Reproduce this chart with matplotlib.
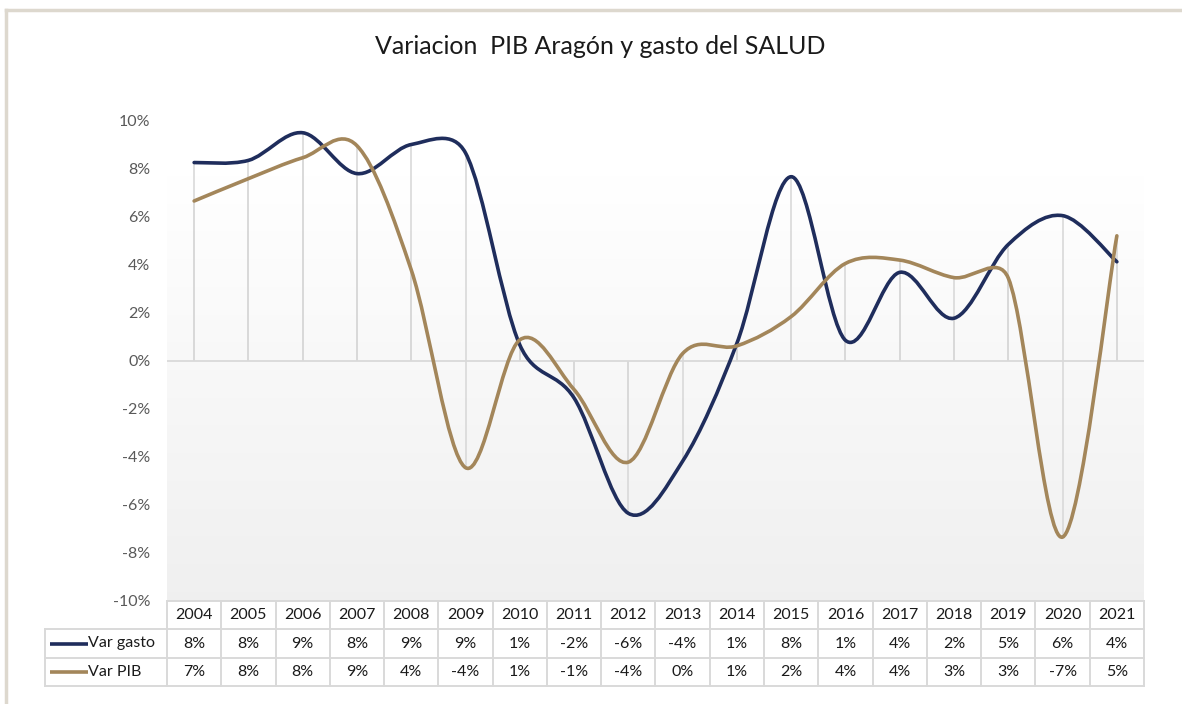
import numpy as np
import matplotlib
matplotlib.use('Agg')
import matplotlib.pyplot as plt
from matplotlib.path import Path
from matplotlib.patches import PathPatch
from matplotlib.lines import Line2D

# data (percent)
years = [2004, 2005, 2006, 2007, 2008, 2009, 2010, 2011, 2012,
         2013, 2014, 2015, 2016, 2017, 2018, 2019, 2020, 2021]
var_gasto = [8.25, 8.34, 9.49, 7.79, 9.0, 8.65, 0.66, -1.55, -6.35,
             -4.18, 0.73, 7.66, 0.85, 3.68, 1.77, 4.84, 6.04, 4.12]
var_pib = [6.65, 7.58, 8.45, 8.95, 3.78, -4.45, 0.87, -1.2, -4.22,
           0.3, 0.62, 1.84, 4.05, 4.19, 3.46, 3.44, -7.34, 5.2]
series_names = ['Var gasto', 'Var PIB']
series_colors = ['#1F2D5C', '#A3865A']
yticks = list(range(-10, 11, 2))
ytick_labels = ['%d%%' % v for v in yticks]

plt.rcParams['font.family'] = ['Lato', 'DejaVu Sans']

W, H = 1182, 704
PX_X, PX_Y = 54.3, 24.07   # pixels per category / per percent


def box(l, t, r, b):
    # pixel box -> figure fraction
    return [l / W, 1 - b / H, (r - l) / W, (b - t) / H]


def smooth_path(x, y):
    # excel style smoothing: bezier segments, control arms 1/6 of the
    # neighbour chord but never longer than half the segment (screen space)
    pts = np.column_stack([x, y]).astype(float)
    scr = pts * [PX_X, PX_Y]
    n = len(pts)
    verts = [pts[0]]
    codes = [Path.MOVETO]
    for i in range(n - 1):
        i0, i3 = max(i - 1, 0), min(i + 2, n - 1)
        d02 = np.hypot(*(scr[i + 1] - scr[i0]))
        d12 = np.hypot(*(scr[i + 1] - scr[i]))
        d13 = np.hypot(*(scr[i3] - scr[i]))
        f0 = min(1 / 6, d12 / (2 * d02)) if d02 > 0 else 0
        f3 = min(1 / 6, d12 / (2 * d13)) if d13 > 0 else 0
        c1 = pts[i] + (pts[i + 1] - pts[i0]) * f0
        c2 = pts[i + 1] - (pts[i3] - pts[i]) * f3
        verts += [c1, c2, pts[i + 1]]
        codes += [Path.CURVE4] * 3
    return Path(verts, codes)


fig = plt.figure(figsize=(W / 100, H / 100), dpi=100)
fig.patch.set_facecolor('white')

# outer frame of the excel chart object
fig.add_artist(Line2D([6 / W, 1], [1 - 10 / H, 1 - 10 / H], color='#DDD8CE', lw=2.5,
                      transform=fig.transFigure))
fig.add_artist(Line2D([6 / W, 6 / W], [0, 1 - 10 / H], color='#DDD8CE', lw=2.5,
                      transform=fig.transFigure))

fig.text(600 / W, 1 - 46 / H, 'Variacion  PIB Aragón y gasto del SALUD',
         ha='center', va='center', fontsize=18, color='#1a1a1a')

ax = fig.add_axes(box(167, 120.5, 1144, 601))
x = np.arange(len(years))
ax.set_xlim(-0.5, len(years) - 0.5)
ax.set_ylim(-10, 10)

# soft grey gradient background
grad = np.linspace(0.94, 1.0, 256).reshape(-1, 1)
ax.imshow(np.dstack([grad, grad, grad]), extent=(-0.5, len(years) - 0.5, -10, 7.7),
          origin='lower', aspect='auto', zorder=0, interpolation='bilinear')

ax.axhline(0, color='#D9D9D9', lw=1.3, zorder=1)
for vals in (var_gasto, var_pib):
    ax.vlines(x, 0, vals, color='#D9D9D9', lw=1.2, zorder=1)

for vals, col in zip((var_gasto, var_pib), series_colors):
    ax.add_patch(PathPatch(smooth_path(x, vals), fill=False, edgecolor=col,
                           lw=2.6, capstyle='round', joinstyle='round', zorder=3))

ax.set_yticks(yticks)
ax.set_yticklabels(ytick_labels)
ax.set_xticks([])
ax.tick_params(axis='y', length=0, pad=12, labelsize=11.5, labelcolor='#595959')
for s in ax.spines.values():
    s.set_visible(False)

# data table under the plot
tab = fig.add_axes(box(45, 601, 1144, 686))
leg_left = -0.5 - (167 - 45) / PX_X
tab.set_xlim(leg_left, len(years) - 0.5)
tab.set_ylim(3, 0)
tab.axis('off')
gc = '#D9D9D9'
tab.plot([-0.5, len(years) - 0.5], [0, 0], color=gc, lw=1.4, clip_on=False)
for r in (1, 2, 3):
    tab.plot([leg_left, len(years) - 0.5], [r, r], color=gc, lw=1.4, clip_on=False)
for k in range(len(years) + 1):
    tab.plot([k - 0.5, k - 0.5], [0, 3], color=gc, lw=1.4, clip_on=False)
tab.plot([leg_left, leg_left], [1, 3], color=gc, lw=1.4, clip_on=False)

for i, yr in enumerate(years):
    tab.text(i, 0.5, str(yr), ha='center', va='center', fontsize=11.5, color='#1a1a1a')
for r, (name, vals, col) in enumerate(zip(series_names, (var_gasto, var_pib), series_colors)):
    row = r + 1.5
    tab.plot([leg_left + 0.09, leg_left + 0.8], [row, row], color=col, lw=2.6,
             solid_capstyle='butt')
    tab.text(leg_left + 0.8, row, name, ha='left', va='center', fontsize=11.5,
             color='#1a1a1a')
    for i, v in enumerate(vals):
        tab.text(i, row, '%d%%' % int(round(v)), ha='center', va='center',
                 fontsize=11.5, color='#1a1a1a')

fig.savefig('out.png', dpi=100)
